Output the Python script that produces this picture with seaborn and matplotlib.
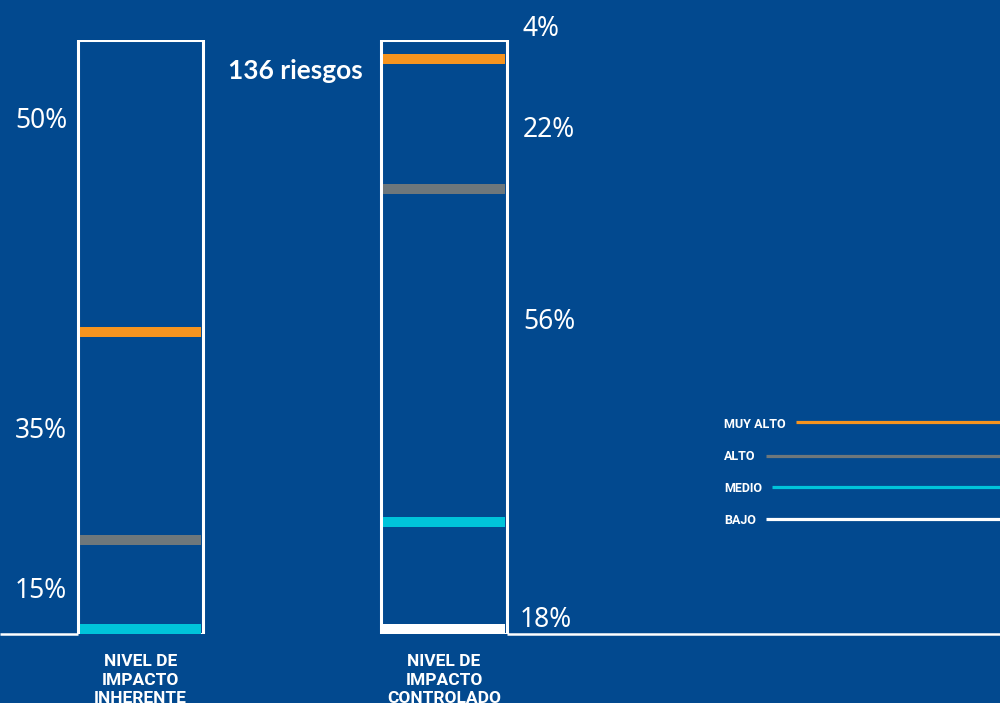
import matplotlib
matplotlib.use("Agg")
import matplotlib.pyplot as plt
import seaborn as sns

# ---- data -------------------------------------------------------------
categories = ["NIVEL DE\nIMPACTO\nINHERENTE", "NIVEL DE\nIMPACTO\nCONTROLADO"]
levels = ["MUY ALTO", "ALTO", "MEDIO", "BAJO"]
inherente = [50, 35, 15, 0]      # % of risks per level, top to bottom
controlado = [4, 22, 56, 18]
total_label = "136 riesgos"

# ---- style ------------------------------------------------------------
bg = "#02498F"
level_colors = ["#F7941E", "#6E777B", "#00C4DA", "#FFFFFF"]

sns.set_theme(style="white")
plt.rcParams["font.family"] = ["Noto Sans", "DejaVu Sans"]

W, H = 1000, 703
fig = plt.figure(figsize=(W / 100, H / 100), dpi=100, facecolor=bg)
# plot area: 0..100 % spans the height of the outlined columns
base_px, top_px = 634, 40
ax = fig.add_axes([0, (H - base_px) / H, 1, (base_px - top_px) / H])
ax.set_facecolor(bg)
unit_px = (base_px - top_px) / 100

bar_w = 0.412
px_per_x = 303.5
x_left = -140.5 / px_per_x
x_right = (W - 140.5) / px_per_x

# outlined columns (full 100 %)
sns.barplot(x=categories, y=[100, 100], ax=ax, fill=False, color="white",
            linewidth=2.2, width=bar_w, saturation=1, err_kws={"linewidth": 0})

# thick coloured mark at the lower edge of each level segment
thick = 1.7
for i, values in enumerate([inherente, controlado]):
    top = 100
    for j, v in enumerate(values):
        lower = top - v
        if v > 0:
            ax.bar(i, thick, bottom=lower, width=bar_w - 0.012,
                   color=level_colors[j], linewidth=0, zorder=3)
        top = lower

# baseline outside the columns
ax.plot([x_left, 0 - bar_w / 2], [0, 0], color="white", lw=1.8,
        solid_capstyle="butt", clip_on=False)
ax.plot([1 + bar_w / 2, x_right], [0, 0], color="white", lw=1.8,
        solid_capstyle="butt", clip_on=False)

ax.set_xlim(x_left, x_right)
ax.set_ylim(0, 100)
ax.axis("off")

# percentage labels (baselines in % units)
pct_kw = dict(color="white", fontsize=19, va="baseline", family=["Noto Sans", "DejaVu Sans"])
left_baselines = [85.2, 33.0, 6.1, None]
for v, yb in zip(inherente, left_baselines):
    if yb is not None and v > 0:
        ax.text(-bar_w / 2 - 0.036, yb, f"{v}%", ha="right", **pct_kw)
right_baselines = [100.6, 83.7, 51.3, 1.2]
right_dx = [0.054, 0.054, 0.054, 0.044]
for v, yb, dx in zip(controlado, right_baselines, right_dx):
    ax.text(1 + bar_w / 2 + dx, yb, f"{v}%", ha="left", **pct_kw)

# total count
ax.text(0.288, 93.4, total_label, color="white", fontsize=19, fontweight="bold",
        ha="left", va="baseline", family=["Lato", "DejaVu Sans"])

# category labels under the columns
for i, c in enumerate(categories):
    ax.text(i, -3.4, c, color="white", fontsize=12.5, fontweight="bold",
            ha="center", va="top", linespacing=1.3, family=["Roboto", "DejaVu Sans"],
            clip_on=False)

# legend: label followed by a line running to the right edge
legend_base_px = [428, 460, 492.5, 524]
legend_line_px = [422, 456, 487, 519]
fig.canvas.draw()
renderer = fig.canvas.get_renderer()
label_x = (724 - 140.5) / px_per_x
for name, col, yb, yl in zip(levels, level_colors, legend_base_px, legend_line_px):
    t = ax.text(label_x, (base_px - yb) / unit_px, name, color="white", fontsize=9,
                fontweight="bold", ha="left", va="baseline",
                family=["Roboto", "DejaVu Sans"])
    ext = t.get_window_extent(renderer)
    start = (ext.x1 + 10 - 140.5) / px_per_x
    y_line = (base_px - yl) / unit_px
    ax.plot([start, x_right], [y_line, y_line], color=col, lw=2.3,
            solid_capstyle="butt", clip_on=False)

fig.savefig("out.png", dpi=100, facecolor=bg)
